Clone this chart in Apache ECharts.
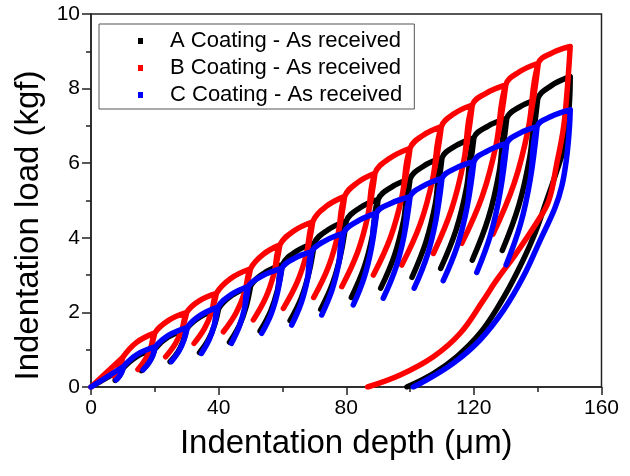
<!DOCTYPE html>
<html><head><meta charset="utf-8">
<script src="https://cdn.jsdelivr.net/npm/echarts@6/dist/echarts.min.js"></script>
<style>html,body{margin:0;padding:0;background:#fff}#c{width:630px;height:476px}</style>
</head><body><div id="c"></div>
<script>
// ---- Series names
const seriesNames = ['A Coating - As received', 'B Coating - As received', 'C Coating - As received'];
const seriesColors = ['#000000', '#ff0000', '#0000ff'];

// ---- A (black): cycle peaks, upper & lower points on each partial unload, troughs, reload-arc mid points, final unload
const A_peakDepth   = [10, 20, 30, 40, 50, 60, 70, 80, 90, 100, 110, 120, 130.3, 140, 150.2];
const A_peakLoad    = [0.50, 1.02, 1.56, 2.10, 2.70, 3.28, 3.86, 4.45, 5.03, 5.58, 6.14, 6.68, 7.20, 7.72, 8.32];
const A_upDepth     = [9.47, 19.08, 28.86, 38.68, 48.55, 58.46, 68.33, 78.24, 88.15, 97.98, 107.93, 117.71, 127.92, 137.56];
const A_upLoad      = [0.38, 0.80, 1.23, 1.65, 2.13, 2.60, 3.07, 3.55, 4.03, 4.47, 4.92, 5.35, 5.76, 6.18];
const A_lowDepth    = [8.73, 17.77, 27.24, 36.82, 46.5, 56.29, 65.97, 75.76, 85.55, 95.12, 105.02, 114.49, 124.58, 134.12];
const A_lowLoad     = [0.28, 0.61, 0.94, 1.27, 1.65, 2.03, 2.40, 2.79, 3.19, 3.53, 3.90, 4.23, 4.54, 4.88];
const A_troughDepth = [7.6, 15.8, 24.8, 34.0, 43.4, 53.0, 62.4, 72.0, 81.6, 90.8, 100.6, 109.6, 119.5, 128.9];
const A_troughLoad  = [0.18, 0.44, 0.68, 0.92, 1.20, 1.50, 1.78, 2.08, 2.40, 2.65, 2.94, 3.18, 3.40, 3.66];
const A_arcDepth    = [14.2, 24.2, 34.2, 44.2, 54.2, 64.2, 74.2, 84.2, 94.2, 104.2, 114.2, 124.33, 134.37, 144.28];
const A_arcLoad     = [0.81, 1.34, 1.88, 2.46, 3.05, 3.63, 4.21, 4.80, 5.36, 5.92, 6.46, 6.99, 7.51, 8.08];
const A_finalDepth  = [150.2, 150.0, 149.3, 148.0, 145.8, 142.8, 138.7, 133.4, 128.2, 121.9, 114.6, 107.3, 99.0];
const A_finalLoad   = [8.32, 7.70, 7.00, 6.35, 5.75, 5.00, 4.03, 3.05, 2.24, 1.44, 0.81, 0.36, 0.0];

// ---- B (red)
const B_peakDepth   = [10, 20, 30, 39.3, 50, 59.2, 69.5, 79.5, 89.0, 100, 109.8, 119.5, 130, 140.2, 150.2];
const B_peakLoad    = [0.80, 1.45, 2.00, 2.51, 3.17, 3.81, 4.43, 5.11, 5.73, 6.40, 6.98, 7.56, 8.10, 8.68, 9.13];
const B_upDepth     = [9.34, 18.83, 28.55, 37.76, 48.13, 57.37, 67.48, 77.37, 86.71, 97.47, 107.07, 116.82, 126.96, 137.08];
const B_upLoad      = [0.61, 1.08, 1.55, 2.00, 2.53, 3.05, 3.55, 4.08, 4.57, 5.11, 5.57, 6.05, 6.49, 6.94];
const B_lowDepth    = [8.41, 17.19, 26.5, 35.59, 45.5, 54.8, 64.62, 74.36, 83.49, 93.91, 103.23, 113.03, 122.69, 132.67];
const B_lowLoad     = [0.45, 0.76, 1.17, 1.57, 1.99, 2.40, 2.81, 3.21, 3.60, 4.02, 4.38, 4.77, 5.13, 5.47];
const B_troughDepth = [7.0, 14.7, 23.4, 32.3, 41.5, 50.9, 60.3, 69.8, 78.6, 88.5, 97.4, 107.3, 116.2, 126.0];
const B_troughLoad  = [0.30, 0.47, 0.81, 1.17, 1.48, 1.80, 2.11, 2.40, 2.69, 3.00, 3.27, 3.58, 3.85, 4.10];
const B_arcDepth    = [14.2, 24.2, 33.91, 43.79, 53.86, 63.53, 73.7, 83.49, 93.62, 104.12, 113.87, 123.91, 134.28, 144.4];
const B_arcLoad     = [1.19, 1.78, 2.31, 2.91, 3.55, 4.18, 4.84, 5.48, 6.13, 6.75, 7.33, 7.88, 8.45, 8.95];
const B_finalDepth  = [150.2, 149.1, 148.0, 146.0, 143.5, 140.0, 133.0, 127.0, 123.0, 115.7, 107.3, 96.9, 86.7];
const B_finalLoad   = [9.13, 7.80, 6.90, 6.00, 5.00, 4.45, 3.55, 2.85, 2.33, 1.44, 0.81, 0.32, 0.0];

// ---- C (blue)
const C_peakDepth   = [10.2, 20.2, 30.2, 39.8, 49.3, 59.8, 69.2, 79.1, 89.5, 100.0, 110.0, 120.0, 130.3, 139.8, 150.2];
const C_peakLoad    = [0.55, 1.08, 1.60, 2.14, 2.69, 3.18, 3.63, 4.12, 4.66, 5.10, 5.59, 6.04, 6.53, 6.98, 7.43];
const C_upDepth     = [9.69, 19.34, 29.1, 38.66, 48.13, 58.41, 67.81, 77.6, 87.89, 98.15, 108.09, 117.89, 128.23, 137.67];
const C_upLoad      = [0.41, 0.84, 1.25, 1.67, 2.11, 2.52, 2.88, 3.29, 3.73, 4.07, 4.47, 4.83, 5.22, 5.57];
const C_lowDepth    = [8.98, 18.13, 27.55, 37.04, 46.49, 56.46, 65.86, 75.5, 85.63, 95.55, 105.39, 114.91, 125.32, 134.66];
const C_lowLoad     = [0.30, 0.65, 0.96, 1.27, 1.63, 1.96, 2.25, 2.59, 2.94, 3.20, 3.53, 3.81, 4.11, 4.38];
const C_troughDepth = [7.9, 16.3, 25.2, 34.6, 44.0, 53.5, 62.9, 72.3, 82.2, 91.6, 101.3, 110.4, 120.9, 130.1];
const C_troughLoad  = [0.19, 0.46, 0.68, 0.90, 1.17, 1.44, 1.66, 1.93, 2.20, 2.38, 2.65, 2.85, 3.07, 3.27];
const C_arcDepth    = [14.4, 24.4, 34.23, 43.79, 53.71, 63.75, 73.36, 83.47, 93.91, 104.2, 114.2, 124.33, 134.29, 144.17];
const C_arcLoad     = [0.87, 1.39, 1.92, 2.47, 2.98, 3.45, 3.92, 4.44, 4.92, 5.39, 5.86, 6.33, 6.80, 7.25];
const C_finalDepth  = [150.2, 149.9, 149.0, 147.6, 145.4, 140.8, 135.5, 129.3, 121.9, 113.6, 105.2, 101.0];
const C_finalLoad   = [7.43, 6.90, 6.10, 5.40, 4.80, 3.94, 2.96, 2.06, 1.26, 0.64, 0.19, 0.0];

// ---- Axis ticks
const xTicks = [0, 40, 80, 120, 160];
const yTicks = [0, 2, 4, 6, 8, 10];

// Path: origin -> first peak; each cycle: peak -> upper -> lower -> trough -> lower -> upper -> peak -> arc mid -> next peak; then final unload
function buildPath(s) {
  const gap = ['-', '-'];
  const out = [[0, 0], [s.pd[0], s.pl[0]], gap];
  for (let i = 0; i < s.td.length; i++) {
    const P = [s.pd[i], s.pl[i]], U = [s.ud[i], s.ul[i]], L = [s.ld[i], s.ll[i]], T = [s.td[i], s.tl[i]];
    out.push(P, U, L, T, L, U, P, [s.ad[i], s.al[i]], [s.pd[i + 1], s.pl[i + 1]], gap);
  }
  for (let j = 0; j < s.fd.length; j++) out.push([s.fd[j], s.fl[j]]);
  return out;
}

const paths = [
  buildPath({pd: A_peakDepth, pl: A_peakLoad, ud: A_upDepth, ul: A_upLoad, ld: A_lowDepth, ll: A_lowLoad, td: A_troughDepth, tl: A_troughLoad, ad: A_arcDepth, al: A_arcLoad, fd: A_finalDepth, fl: A_finalLoad}),
  buildPath({pd: B_peakDepth, pl: B_peakLoad, ud: B_upDepth, ul: B_upLoad, ld: B_lowDepth, ll: B_lowLoad, td: B_troughDepth, tl: B_troughLoad, ad: B_arcDepth, al: B_arcLoad, fd: B_finalDepth, fl: B_finalLoad}),
  buildPath({pd: C_peakDepth, pl: C_peakLoad, ud: C_upDepth, ul: C_upLoad, ld: C_lowDepth, ll: C_lowLoad, td: C_troughDepth, tl: C_troughLoad, ad: C_arcDepth, al: C_arcLoad, fd: C_finalDepth, fl: C_finalLoad})
];

const chart = echarts.init(document.getElementById('c'), null, {renderer: 'canvas'});
const font = 'Liberation Sans, Arial, sans-serif';
chart.setOption({
  animation: false,
  backgroundColor: '#ffffff',
  grid: {left: 91, right: 28.5, top: 14, bottom: 89, show: true, borderColor: '#222', borderWidth: 1.5, backgroundColor: 'transparent'},
  legend: {
    show: true, orient: 'vertical', left: 99, top: 24,
    data: seriesNames.map((n, k) => ({name: n, icon: 'rect', itemStyle: {color: seriesColors[k], borderWidth: 0}})),
    itemWidth: 5, itemHeight: 6, itemGap: 5,
    itemStyle: {borderWidth: 0}, lineStyle: {width: 0},
    padding: [6, 12, 3, 39],
    borderColor: '#555', borderWidth: 1,
    textStyle: {fontFamily: font, fontSize: 22, color: '#000', padding: [0, 0, 0, 22], lineHeight: 22}
  },
  xAxis: {
    type: 'value', min: xTicks[0], max: xTicks[xTicks.length - 1], interval: 40,
    name: 'Indentation depth (\u03bcm)', nameLocation: 'middle', nameGap: 40,
    nameTextStyle: {fontFamily: font, fontSize: 33, color: '#000'},
    axisLine: {show: true, onZero: false, lineStyle: {color: '#222', width: 1.5}},
    axisTick: {show: true, inside: false, length: 8, lineStyle: {color: '#222', width: 1.5}},
    minorTick: {show: true, splitNumber: 2, length: 5, lineStyle: {color: '#222', width: 1.5}},
    axisLabel: {fontFamily: font, fontSize: 21, color: '#000', margin: 11},
    splitLine: {show: false}
  },
  yAxis: {
    type: 'value', min: yTicks[0], max: yTicks[yTicks.length - 1], interval: 2,
    name: 'Indentation load (kgf)', nameLocation: 'middle', nameGap: 42, nameRotate: 90,
    nameTextStyle: {fontFamily: font, fontSize: 33, color: '#000', padding: [0, 50, 0, 0]},
    axisLine: {show: true, onZero: false, lineStyle: {color: '#222', width: 1.5}},
    axisTick: {show: true, inside: false, length: 9, lineStyle: {color: '#222', width: 1.5}},
    minorTick: {show: true, splitNumber: 2, length: 5, lineStyle: {color: '#222', width: 1.5}},
    axisLabel: {fontFamily: font, fontSize: 21, color: '#000', margin: 11},
    splitLine: {show: false}
  },
  series: seriesNames.map((n, k) => ({
    name: n, type: 'line', data: paths[k], showSymbol: false, symbol: 'rect',
    smooth: 0.4, connectNulls: false, clip: true,
    itemStyle: {color: seriesColors[k]},
    lineStyle: {color: seriesColors[k], width: 5.5, cap: 'round', join: 'round'},
    z: 2 + k
  }))
});
</script>
</body></html>
